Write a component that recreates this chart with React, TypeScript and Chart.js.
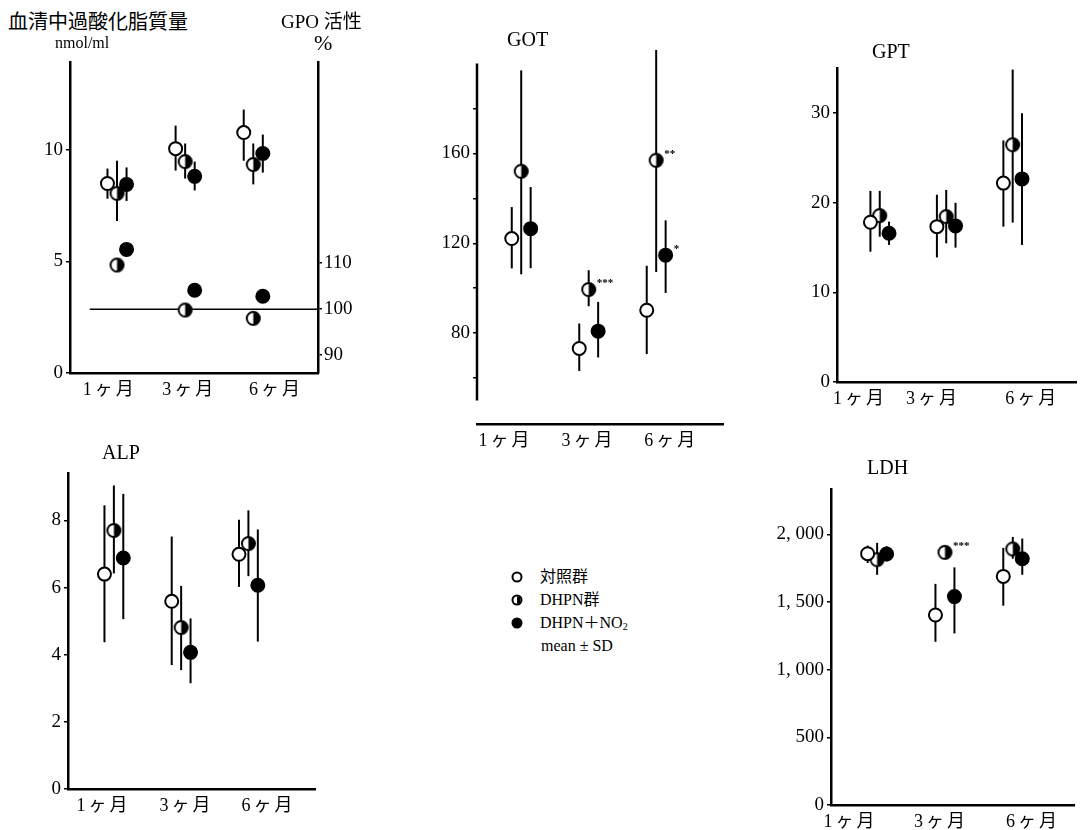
import React, { useEffect, useRef } from "react";
import { Chart, registerables } from "chart.js";

Chart.register(...registerables);

// ---------- categories / labels ----------
const MONTHS = ["1ヶ月", "3ヶ月", "6ヶ月"];
const MONTH_X = [1, 2, 3];
const GROUPS = ["対照群", "DHPN群", "DHPN＋NO"];

// ---------- 血清中過酸化脂質量 (nmol/ml), mean and [mean-SD, mean+SD] ----------
const lpoCtrl = [8.48, 10.04, 10.76];
const lpoCtrlSD = [[7.8, 9.15], [9.06, 11.07], [9.5, 11.79]];
const lpoDhpn = [8.04, 9.46, 9.33];
const lpoDhpnSD = [[6.8, 9.5], [8.7, 10.27], [8.44, 10.27]];
const lpoNo2 = [8.44, 8.8, 9.82];
const lpoNo2SD = [[7.7, 9.2], [8.17, 9.46], [8.97, 10.67]];

// ---------- GPO 活性 (%) ----------
const GPO_BASE = 100;
const gpoDhpn = [109.6, 99.8, 98.0];
const gpoNo2 = [113.0, 104.1, 102.8];

// ---------- GOT ----------
const gotCtrl = [122.1, 73.2, 90.2];
const gotCtrlSD = [[108.8, 136.1], [63.2, 84.3], [70.7, 110]];
const gotDhpn = [152, 99.4, 156.9];
const gotDhpnSD = [[106.2, 196.9], [92, 108], [107.2, 206]];
const gotNo2 = [126.5, 80.9, 114.7];
const gotNo2SD = [[108.9, 145], [69.2, 93.9], [97.9, 130.2]];
const gotDhpnSig = ["", "***", "**"];
const gotNo2Sig = ["", "", "*"];

// ---------- GPT ----------
const gptCtrl = [17.83, 17.34, 22.2];
const gptCtrlSD = [[14.54, 21.33], [13.9, 20.9], [17.34, 26.96]];
const gptDhpn = [18.57, 18.46, 26.48];
const gptDhpnSD = [[16.22, 21.33], [15.48, 21.44], [17.79, 34.87]];
const gptNo2 = [16.6, 17.42, 22.67];
const gptNo2SD = [[15.3, 17.9], [15.0, 20.0], [15.3, 30.0]];

// ---------- ALP ----------
const alpCtrl = [6.4, 5.59, 6.99];
const alpCtrlSD = [[4.37, 8.45], [3.69, 7.52], [6.02, 8.02]];
const alpDhpn = [7.7, 4.81, 7.31];
const alpDhpnSD = [[6.42, 9.04], [3.54, 6.05], [6.34, 8.3]];
const alpNo2 = [6.88, 4.07, 6.07];
const alpNo2SD = [[5.06, 8.79], [3.15, 5.08], [4.39, 7.73]];

// ---------- LDH ----------
const ldhCtrl = [1857, 1404, 1689];
const ldhCtrlSD = [[1788, 1917], [1206, 1634], [1473, 1900]];
const ldhDhpn = [1813, 1867, 1892];
const ldhDhpnSD = [[1701, 1937], [1833, 1907], [1820, 1981]];
const ldhNo2 = [1855, 1540, 1820];
const ldhNo2SD = [[1800, 1912], [1268, 1756], [1701, 1969]];
const ldhDhpnSig = ["", "***", ""];

// ---------- tick values ----------
const lpoTicks = [0, 5, 10];
const gpoTicks = [90, 100, 110];
const gotTicks = [60, 80, 100, 120, 140, 160, 180];
const gotLabelTicks = [80, 120, 160];
const gptTicks = [0, 10, 20, 30];
const alpTicks = [0, 2, 4, 6, 8];
const ldhTicks = [0, 500, 1000, 1500, 2000];

// ---------- layout / styling ----------
const SLOT_OFFSET = [-0.14, 0, 0.14];
const SERIF = "'Liberation Serif', 'Noto Sans CJK JP', serif";
const CJK = "'Noto Sans CJK JP', 'Liberation Serif', sans-serif";

type Series = {
  mean: number[];
  err?: number[][];
  style: "open" | "half" | "filled";
  slot: number;
  axis?: string;
  sig?: string[];
};

type PanelDef = {
  rect: { left: number; top: number; right: number; bottom: number };
  margin: { l: number; t: number; r: number; b: number };
  xMin: number;
  xMax: number;
  labelAt: number[];
  yMin: number;
  yMax: number;
  yTicks: number[];
  yLabels: number[];
  yFmt?: (v: number) => string;
  yAxisFrom?: number;
  y2?: { min: number; max: number; ticks: number[] };
  refLine?: { value: number; from: number };
  series: Series[];
};

const commaFmt = (v: number) =>
  v >= 1000 ? `${Math.floor(v / 1000)}, ${String(v % 1000).padStart(3, "0")}` : String(v);

const PANELS: PanelDef[] = [
  {
    rect: { left: 70, top: 62, right: 318, bottom: 373 },
    margin: { l: 60, t: 14, r: 50, b: 36 },
    xMin: 0.31, xMax: 3.95, labelAt: [0.87, 2.04, 3.31],
    yMin: 0, yMax: 13.9, yTicks: lpoTicks, yLabels: lpoTicks,
    y2: { min: 86.1, max: 153.7, ticks: gpoTicks },
    refLine: { value: GPO_BASE, from: 0.6 },
    series: [
      { mean: lpoCtrl, err: lpoCtrlSD, style: "open", slot: 0 },
      { mean: lpoDhpn, err: lpoDhpnSD, style: "half", slot: 1 },
      { mean: lpoNo2, err: lpoNo2SD, style: "filled", slot: 2 },
      { mean: gpoDhpn, style: "half", slot: 1, axis: "y2" },
      { mean: gpoNo2, style: "filled", slot: 2, axis: "y2" },
    ],
  },
  {
    rect: { left: 477, top: 63, right: 723, bottom: 424 },
    margin: { l: 60, t: 14, r: 12, b: 36 },
    xMin: 0.345, xMax: 3.99, labelAt: [0.745, 1.975, 3.2],
    yMin: 39.6, yMax: 200, yTicks: gotTicks, yLabels: gotLabelTicks, yAxisFrom: 50,
    series: [
      { mean: gotCtrl, err: gotCtrlSD, style: "open", slot: 0 },
      { mean: gotDhpn, err: gotDhpnSD, style: "half", slot: 1, sig: gotDhpnSig },
      { mean: gotNo2, err: gotNo2SD, style: "filled", slot: 2, sig: gotNo2Sig },
    ],
  },
  {
    rect: { left: 837, top: 68, right: 1081, bottom: 382 },
    margin: { l: 60, t: 14, r: 4, b: 36 },
    xMin: 0.357, xMax: 3.96, labelAt: [0.68, 1.78, 3.27],
    yMin: 0, yMax: 35, yTicks: gptTicks, yLabels: gptTicks,
    series: [
      { mean: gptCtrl, err: gptCtrlSD, style: "open", slot: 0 },
      { mean: gptDhpn, err: gptDhpnSD, style: "half", slot: 1 },
      { mean: gptNo2, err: gptNo2SD, style: "filled", slot: 2 },
    ],
  },
  {
    rect: { left: 68, top: 473, right: 315, bottom: 789 },
    margin: { l: 60, t: 14, r: 12, b: 36 },
    xMin: 0.318, xMax: 3.99, labelAt: [0.823, 2.056, 3.275],
    yMin: 0, yMax: 9.4, yTicks: alpTicks, yLabels: alpTicks,
    series: [
      { mean: alpCtrl, err: alpCtrlSD, style: "open", slot: 0 },
      { mean: alpDhpn, err: alpDhpnSD, style: "half", slot: 1 },
      { mean: alpNo2, err: alpNo2SD, style: "filled", slot: 2 },
    ],
  },
  {
    rect: { left: 831, top: 489, right: 1075, bottom: 805 },
    margin: { l: 70, t: 14, r: 8, b: 25 },
    xMin: 0.32, xMax: 3.91, labelAt: [0.585, 1.92, 3.276],
    yMin: 0, yMax: 2332, yTicks: ldhTicks, yLabels: ldhTicks, yFmt: commaFmt,
    series: [
      { mean: ldhCtrl, err: ldhCtrlSD, style: "open", slot: 0 },
      { mean: ldhDhpn, err: ldhDhpnSD, style: "half", slot: 1, sig: ldhDhpnSig },
      { mean: ldhNo2, err: ldhNo2SD, style: "filled", slot: 2 },
    ],
  },
];

function makeHalfMarker(r: number) {
  const size = Math.ceil(r * 2 + 4);
  const c = document.createElement("canvas");
  c.width = size;
  c.height = size;
  const ctx = c.getContext("2d")!;
  const cx = size / 2;
  const cy = size / 2;
  ctx.beginPath();
  ctx.arc(cx, cy, r, 0, Math.PI * 2);
  ctx.fillStyle = "#fff";
  ctx.fill();
  ctx.beginPath();
  ctx.moveTo(cx, cy);
  ctx.arc(cx, cy, r, -Math.PI / 2, Math.PI / 2);
  ctx.closePath();
  ctx.fillStyle = "#000";
  ctx.fill();
  ctx.beginPath();
  ctx.arc(cx, cy, r, 0, Math.PI * 2);
  ctx.lineWidth = 2;
  ctx.strokeStyle = "#000";
  ctx.stroke();
  return c;
}

function decorPlugin(def: PanelDef) {
  return {
    id: "decor",
    beforeDatasetsDraw(chart: any) {
      const ctx = chart.ctx;
      const xs = chart.scales.x;
      const area = chart.chartArea;
      ctx.save();
      ctx.strokeStyle = "#000";
      ctx.lineWidth = 2;
      def.series.forEach((s) => {
        if (!s.err) return;
        const ys = chart.scales[s.axis || "y"];
        s.err.forEach(([lo, hi], i) => {
          const x = xs.getPixelForValue(MONTH_X[i] + SLOT_OFFSET[s.slot]);
          ctx.beginPath();
          ctx.moveTo(x, ys.getPixelForValue(lo));
          ctx.lineTo(x, ys.getPixelForValue(hi));
          ctx.stroke();
        });
      });
      if (def.refLine) {
        const ys = chart.scales.y2;
        const y = ys.getPixelForValue(def.refLine.value);
        ctx.lineWidth = 1.5;
        ctx.beginPath();
        ctx.moveTo(xs.getPixelForValue(def.refLine.from), y);
        ctx.lineTo(area.right, y);
        ctx.stroke();
      }
      if (def.yAxisFrom !== undefined) {
        const ys = chart.scales.y;
        ctx.lineWidth = 2.5;
        ctx.beginPath();
        ctx.moveTo(area.left, ys.getPixelForValue(def.yAxisFrom));
        ctx.lineTo(area.left, area.top);
        ctx.stroke();
      }
      // month labels (category axis text, spaced like the typeset original)
      ctx.fillStyle = "#000";
      ctx.font = `18px ${SERIF}`;
      ctx.textAlign = "center";
      ctx.textBaseline = "middle";
      try {
        (ctx as any).letterSpacing = "3px";
      } catch (e) {}
      def.labelAt.forEach((v, i) => {
        ctx.fillText(MONTHS[i], xs.getPixelForValue(v) + 1.5, area.bottom + 17);
      });
      ctx.restore();
    },
    afterDatasetsDraw(chart: any) {
      const ctx = chart.ctx;
      const xs = chart.scales.x;
      ctx.save();
      ctx.fillStyle = "#000";
      ctx.font = `bold 11px ${SERIF}`;
      ctx.textAlign = "left";
      ctx.textBaseline = "middle";
      def.series.forEach((s) => {
        if (!s.sig) return;
        const ys = chart.scales[s.axis || "y"];
        s.sig.forEach((m, i) => {
          if (!m) return;
          const x = xs.getPixelForValue(MONTH_X[i] + SLOT_OFFSET[s.slot]);
          const y = ys.getPixelForValue(s.mean[i]);
          ctx.fillText(m, x + 8, y - 6);
        });
      });
      ctx.restore();
    },
  };
}

function buildConfig(def: PanelDef): any {
  const half = makeHalfMarker(6.5);
  const datasets = def.series.map((s) => ({
    type: "scatter",
    data: s.mean.map((m, i) => ({ x: MONTH_X[i] + SLOT_OFFSET[s.slot], y: m })),
    yAxisID: s.axis || "y",
    pointStyle: s.style === "half" ? half : "circle",
    pointRadius: 6.5,
    pointHoverRadius: 6.5,
    pointBackgroundColor: s.style === "open" ? "#fff" : "#000",
    pointBorderColor: "#000",
    pointBorderWidth: 2,
    clip: false,
  }));
  const tickFont = { family: SERIF, size: 19 };
  const scales: any = {
    x: {
      type: "linear",
      min: def.xMin,
      max: def.xMax,
      afterBuildTicks: (axis: any) => {
        axis.ticks = def.labelAt.map((v) => ({ value: v }));
      },
      afterFit: (axis: any) => {
        axis.height = def.margin.b;
      },
      ticks: { display: false },
      grid: { drawOnChartArea: false, drawTicks: false },
      border: { color: "#000", width: 2.5 },
    },
    y: {
      type: "linear",
      position: "left",
      min: def.yMin,
      max: def.yMax,
      afterBuildTicks: (axis: any) => {
        axis.ticks = def.yTicks.map((v) => ({ value: v }));
      },
      afterFit: (axis: any) => {
        axis.width = def.margin.l;
      },
      ticks: {
        callback: (v: number) => (def.yLabels.includes(v) ? (def.yFmt ? def.yFmt(v) : String(v)) : ""),
        font: tickFont,
        color: "#000",
        padding: 3,
        autoSkip: false,
      },
      grid: { drawOnChartArea: false, drawTicks: true, tickLength: 4, color: "#000", lineWidth: 1.5 },
      border: { display: def.yAxisFrom === undefined, color: "#000", width: 2.5 },
    },
  };
  if (def.y2) {
    const y2 = def.y2;
    scales.y2 = {
      type: "linear",
      position: "right",
      min: y2.min,
      max: y2.max,
      afterBuildTicks: (axis: any) => {
        axis.ticks = y2.ticks.map((v) => ({ value: v }));
      },
      afterFit: (axis: any) => {
        axis.width = def.margin.r;
      },
      ticks: { font: tickFont, color: "#000", padding: 2, autoSkip: false },
      grid: { drawOnChartArea: false, drawTicks: true, tickLength: 4, color: "#000", lineWidth: 1.5 },
      border: { color: "#000", width: 2.5 },
    };
  }
  return {
    type: "scatter",
    data: { datasets },
    options: {
      responsive: false,
      animation: false,
      events: [],
      layout: {
        padding: { left: 0, top: def.margin.t, right: def.y2 ? 0 : def.margin.r, bottom: 0 },
      },
      plugins: { legend: { display: false }, tooltip: { enabled: false }, title: { display: false } },
      scales,
    },
    plugins: [decorPlugin(def)],
  };
}

function Panel({ def }: { def: PanelDef }) {
  const ref = useRef<HTMLCanvasElement>(null);
  useEffect(() => {
    const chart = new Chart(ref.current as HTMLCanvasElement, buildConfig(def));
    return () => chart.destroy();
  }, [def]);
  const { rect, margin } = def;
  const w = rect.right - rect.left + margin.l + margin.r;
  const h = rect.bottom - rect.top + margin.t + margin.b;
  return (
    <canvas
      ref={ref}
      width={w}
      height={h}
      style={{ position: "absolute", left: rect.left - margin.l, top: rect.top - margin.t, width: w, height: h }}
    />
  );
}

function Text({ x, y, size, family, children }: any) {
  return (
    <div
      style={{
        position: "absolute",
        left: x,
        top: y,
        transform: "translateY(-50%)",
        fontFamily: family,
        fontSize: size,
        lineHeight: 1,
        whiteSpace: "nowrap",
        color: "#000",
      }}
    >
      {children}
    </div>
  );
}

const markerBase: React.CSSProperties = {
  position: "absolute",
  width: 11,
  height: 11,
  boxSizing: "border-box",
  borderRadius: "50%",
  border: "2px solid #000",
  transform: "translate(-50%, -50%)",
};

export default function App() {
  const legendRows = [577, 600, 623];
  const markerBg = ["#fff", "linear-gradient(to right, #fff 50%, #000 50%)", "#000"];
  return (
    <div
      style={{
        position: "fixed",
        left: 0,
        top: 0,
        width: 1085,
        height: 830,
        background: "#fff",
        overflow: "hidden",
      }}
    >
      {PANELS.map((p, i) => (
        <Panel key={i} def={p} />
      ))}

      <Text x={8} y={21} size={20} family={CJK}>血清中過酸化脂質量</Text>
      <Text x={55} y={43} size={16} family={SERIF}>nmol/ml</Text>
      <Text x={281} y={21} size={19} family={SERIF}>GPO 活性</Text>
      <Text x={314} y={43} size={22} family={SERIF}>%</Text>

      <Text x={507} y={39} size={20} family={SERIF}>GOT</Text>
      <Text x={872} y={51} size={20} family={SERIF}>GPT</Text>
      <Text x={102} y={452} size={20} family={SERIF}>ALP</Text>
      <Text x={867} y={467} size={20} family={SERIF}>LDH</Text>

      {legendRows.map((y, i) => (
        <React.Fragment key={i}>
          <div style={{ ...markerBase, left: 517, top: y, background: markerBg[i] }} />
          <Text x={540} y={y} size={16} family={SERIF}>
            {GROUPS[i]}
            {i === 2 ? <span style={{ fontSize: 10, verticalAlign: "-2px" }}>2</span> : null}
          </Text>
        </React.Fragment>
      ))}
      <Text x={541} y={646} size={16} family={SERIF}>mean ± SD</Text>
    </div>
  );
}
